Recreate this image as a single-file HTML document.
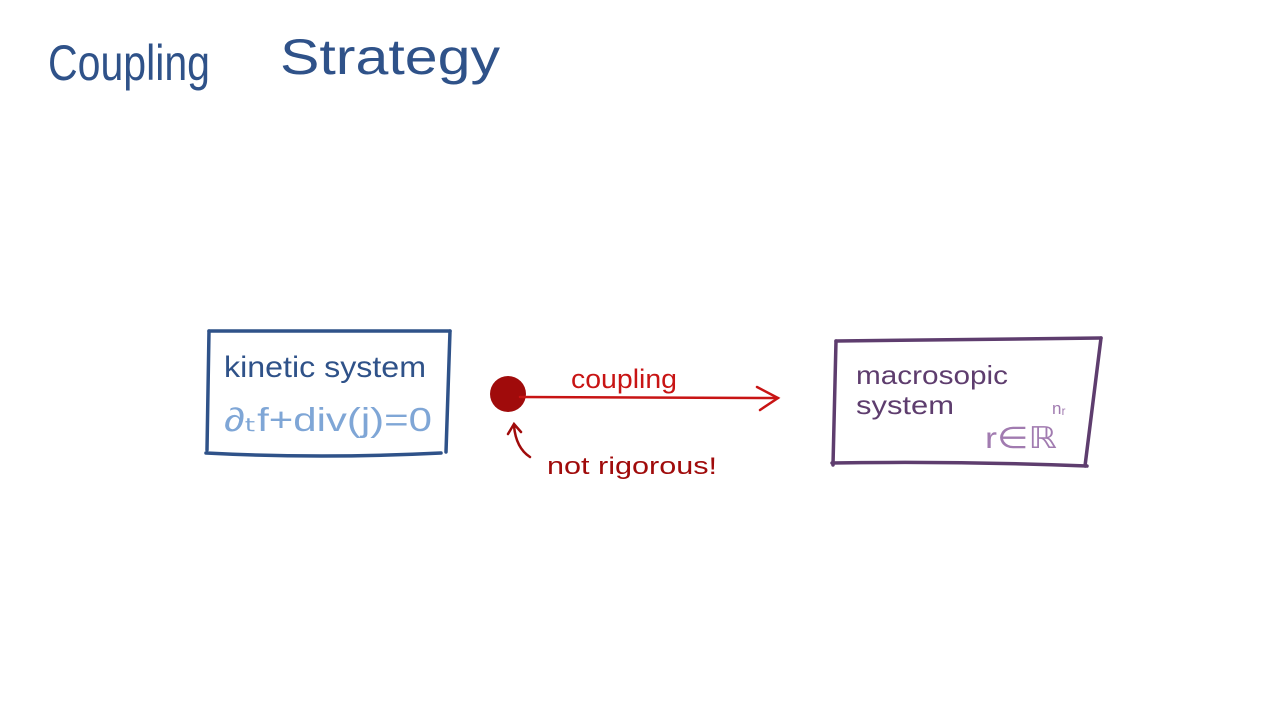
<!DOCTYPE html>
<html><head><meta charset="utf-8"><style>
html,body{margin:0;padding:0;background:#fff;}
svg{display:block}
text{font-family:"Liberation Sans",sans-serif;}
</style></head><body>
<svg width="1280" height="720" viewBox="0 0 1280 720" xmlns="http://www.w3.org/2000/svg">
<rect width="1280" height="720" fill="#fff"/>
<text x="48" y="80" font-size="50" fill="#2f5289" textLength="162" lengthAdjust="spacingAndGlyphs">Coupling</text>
<text x="280" y="74" font-size="50" fill="#2f5289" textLength="220" lengthAdjust="spacingAndGlyphs">Strategy</text>

<g fill="none" stroke="#2f5289" stroke-width="3.5" stroke-linecap="round">
<path d="M209 331 L450 331"/>
<path d="M209 331 L207 450"/>
<path d="M450 331 L446 452"/>
<path d="M206 453 Q320 459 441 453"/>
</g>
<text x="224" y="377" font-size="30" fill="#2f5289" textLength="202" lengthAdjust="spacingAndGlyphs">kinetic system</text>
<text x="224" y="431" font-size="33" fill="#7fa6d6" textLength="208" lengthAdjust="spacingAndGlyphs">∂ₜf+div(j)=0</text>

<circle cx="508" cy="394" r="18" fill="#a00b0b"/>
<g fill="none" stroke="#c81414" stroke-width="2.5" stroke-linecap="round">
<path d="M520 397 L778 398"/>
<path d="M757 387 L778 398 L760 410"/>
</g>
<text x="571" y="388" font-size="27" fill="#c81414" textLength="106" lengthAdjust="spacingAndGlyphs">coupling</text>
<g fill="none" stroke="#a00b0b" stroke-width="2.5" stroke-linecap="round">
<path d="M530 457 Q516 448 514 426"/>
<path d="M508 434 L514 424 L521 432"/>
</g>
<text x="547" y="474" font-size="24" fill="#a00b0b" textLength="170" lengthAdjust="spacingAndGlyphs">not rigorous!</text>

<g fill="none" stroke="#5e3d6e" stroke-width="3.5" stroke-linecap="round">
<path d="M836 341 L1101 338"/>
<path d="M836 341 L833 465"/>
<path d="M1101 338 L1085 466"/>
<path d="M832 463 Q960 461 1087 466"/>
</g>
<text x="856" y="384" font-size="26" fill="#5e3d6e" textLength="152" lengthAdjust="spacingAndGlyphs">macrosopic</text>
<text x="856" y="414" font-size="26" fill="#5e3d6e" textLength="98" lengthAdjust="spacingAndGlyphs">system</text>
<text x="985" y="448" font-size="30" fill="#a17bb0" textLength="72" lengthAdjust="spacingAndGlyphs">r∈ℝ</text>
<text x="1052" y="414" font-size="17" fill="#a17bb0">nᵣ</text>
</svg>
</body></html>
